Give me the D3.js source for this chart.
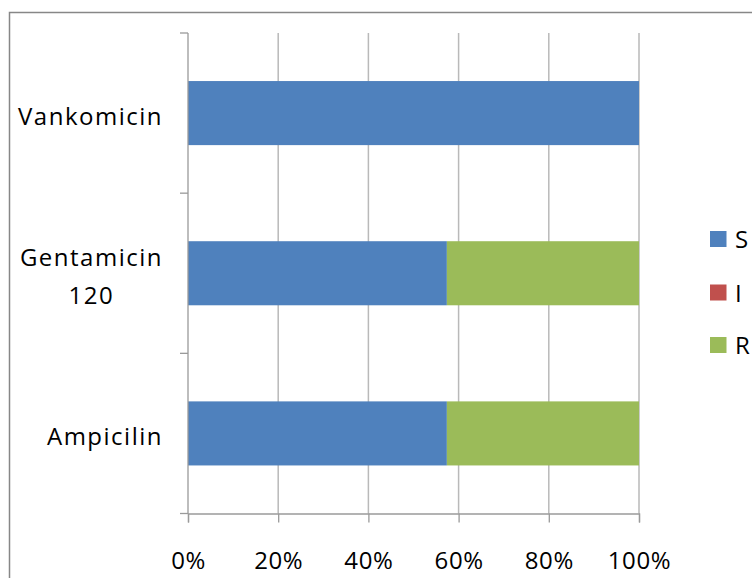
<!DOCTYPE html>
<html>
<head>
<meta charset="utf-8">
<script src="https://cdn.jsdelivr.net/npm/d3@7"></script>
<style>
  html, body { margin: 0; padding: 0; background: #fff; overflow: hidden; }
  svg { display: block; }
  text { font-family: "Open Sans", "Liberation Sans", sans-serif; fill: #000; }
</style>
</head>
<body>
<script>
// Antibiotic susceptibility (percent of isolates): S = sensitive, I = intermediate, R = resistant
const categories = ["Vankomicin", "Gentamicin\n120", "Ampicilin"];
const seriesNames = ["S", "I", "R"];
const valuesS = [100, 57.4, 57.4];
const valuesI = [0, 0, 0];
const valuesR = [0, 42.6, 42.6];
const tickValues = [0, 20, 40, 60, 80, 100];
const seriesColors = ["#4F81BD", "#C0504D", "#9BBB59"];

const W = 752, H = 578;
const plot = { left: 188, right: 639, top: 33, bottom: 513.5 };

const svg = d3.select("body").append("svg").attr("width", W).attr("height", H);

// chart frame
svg.append("rect")
  .attr("x", 9.5).attr("y", 12.5).attr("width", 800).attr("height", 700)
  .attr("fill", "none").attr("stroke", "#878787").attr("stroke-width", 1.5);

const x = d3.scaleLinear().domain([0, 100]).range([plot.left, plot.right]);
const y = d3.scaleBand().domain(categories).range([plot.top, plot.bottom])
  .paddingInner(0.6).paddingOuter(0.3);

// vertical gridlines
svg.append("g").selectAll("line").data(tickValues.slice(1)).join("line")
  .attr("x1", d => x(d)).attr("x2", d => x(d))
  .attr("y1", plot.top).attr("y2", plot.bottom)
  .attr("stroke", "#b9b9b9").attr("stroke-width", 1.5);

// stacked bars
const rows = categories.map((c, i) => ({ cat: c, S: valuesS[i], I: valuesI[i], R: valuesR[i] }));
const stack = d3.stack().keys(seriesNames)(rows);
const color = d3.scaleOrdinal().domain(seriesNames).range(seriesColors);

svg.append("g").selectAll("g").data(stack).join("g")
  .attr("fill", s => color(s.key))
  .selectAll("rect").data(s => s).join("rect")
  .attr("x", d => x(d[0]))
  .attr("width", d => x(d[1]) - x(d[0]))
  .attr("y", d => y(d.data.cat))
  .attr("height", y.bandwidth());

// category axis: line and ticks at band boundaries
const yBoundaries = d3.range(categories.length + 1).map(i => plot.top + i * (plot.bottom - plot.top) / categories.length);
const axisG = svg.append("g").attr("stroke", "#9a9a9a").attr("stroke-width", 1.3);
axisG.append("line").attr("x1", plot.left).attr("x2", plot.left)
  .attr("y1", plot.top).attr("y2", plot.bottom);
axisG.selectAll("line.yt").data(yBoundaries).join("line").attr("class", "yt")
  .attr("x1", plot.left - 8).attr("x2", plot.left)
  .attr("y1", d => d).attr("y2", d => d);

// value axis via d3.axisBottom
const xAxis = d3.axisBottom(x).tickValues(tickValues).tickSize(9).tickFormat(d => d + "%");
const xg = svg.append("g").attr("transform", `translate(0,${plot.bottom})`).call(xAxis);
xg.select(".domain").attr("stroke", "#9a9a9a").attr("stroke-width", 1.3);
xg.selectAll(".tick line").attr("stroke", "#9a9a9a").attr("stroke-width", 1.3);
xg.selectAll(".tick text")
  .attr("y", 55.5).attr("dy", null)
  .style("font-size", "24px").style("letter-spacing", "0.6px")
  .attr("fill", "#000");
xg.attr("font-family", null).attr("font-size", null);

// category labels, right-aligned block with centered lines
const labelRight = 163, lineH = 38;
categories.forEach(c => {
  const lines = c.split("\n");
  const cy = y(c) + y.bandwidth() / 2;
  const t = svg.append("text").style("font-size", "24px").style("letter-spacing", "1.5px")
    .attr("text-anchor", "middle");
  lines.forEach((ln, i) => {
    t.append("tspan").text(ln)
      .attr("y", cy + 12 - (lines.length - 1) * lineH / 2 + i * lineH);
  });
  let maxW = 0;
  t.selectAll("tspan").each(function () { maxW = Math.max(maxW, this.getComputedTextLength()); });
  t.selectAll("tspan").attr("x", labelRight - maxW / 2);
});

// legend
const legend = svg.append("g").attr("transform", "translate(710,0)");
const legendY = [239, 292.5, 345];
seriesNames.forEach((s, i) => {
  legend.append("rect").attr("x", 0).attr("y", legendY[i] - 8)
    .attr("width", 16.5).attr("height", 16).attr("fill", color(s));
  legend.append("text").attr("x", 25).attr("y", legendY[i] + 9)
    .style("font-size", "24px").text(s);
});
</script>
</body>
</html>
